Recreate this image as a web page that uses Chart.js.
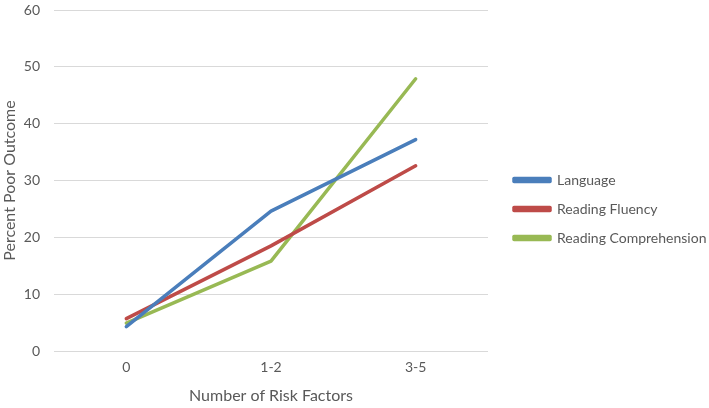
<!DOCTYPE html>
<html><head><meta charset="utf-8">
<script src="https://cdn.jsdelivr.net/npm/chart.js@4/dist/chart.umd.min.js"></script>
<style>html,body{margin:0;padding:0;background:#fff}</style>
</head><body><canvas id="c" width="709" height="408"></canvas>
<script>
const categories = ["0", "1-2", "3-5"];
const language = [4.3, 24.6, 37.2];
const readingFluency = [5.7, 18.5, 32.6];
const readingComprehension = [4.9, 15.8, 47.9];
const seriesNames = ["Language", "Reading Fluency", "Reading Comprehension"];
const yTicks = [0, 10, 20, 30, 40, 50, 60];

const FONT = "Lato, 'Open Sans', sans-serif";
const TXT = '#595959';
const colors = ["#4a7ebb", "#be4b48", "#98b954"];
const values = [language, readingFluency, readingComprehension];

new Chart(document.getElementById('c'), {
  type: 'line',
  data: {
    labels: categories,
    datasets: seriesNames.map((n, i) => ({
      label: n, data: values[i], borderColor: colors[i], backgroundColor: colors[i],
      borderWidth: 3.5, pointRadius: 0, tension: 0, borderCapStyle: 'round', borderJoinStyle: 'round'
    }))
  },
  options: {
    responsive: false, animation: false,
    devicePixelRatio: 1,
    layout: { padding: { top: 10, right: 0, bottom: 0, left: 0 } },
    plugins: {
      tooltip: { enabled: false },
      legend: {
        position: 'right',
        maxWidth: 210,
        labels: { boxWidth: 36, boxHeight: 3, padding: 15, color: TXT, font: { family: FONT, size: 14 } }
      }
    },
    scales: {
      x: {
        offset: true,
        afterFit: (s) => { s.height = 57; },
        grid: { display: false, drawTicks: false },
        border: { display: false },
        ticks: { color: TXT, font: { family: FONT, size: 14 }, padding: 8 },
        title: { display: true, text: 'Number of Risk Factors', color: TXT, font: { family: FONT, size: 16 }, padding: { top: 4, bottom: 3 } }
      },
      y: {
        min: 0, max: 60,
        afterBuildTicks: (ax) => { ax.ticks = yTicks.map(v => ({ value: v })); },
        afterFit: (s) => { s.paddingTop = 0; s.width = 54; },
        grid: { color: '#d9d9d9', lineWidth: 1, drawTicks: false },
        border: { display: false },
        ticks: { color: TXT, font: { family: FONT, size: 14 }, padding: 14 },
        title: { display: true, text: 'Percent Poor Outcome', color: TXT, font: { family: FONT, size: 16 }, padding: { top: 0, bottom: 2 } }
      },
      gap: {
        position: 'right', display: true,
        grid: { display: false, drawTicks: false }, border: { display: false },
        ticks: { display: false },
        afterFit: (s) => { s.width = 11; }
      }
    }
  }
});
</script>
</body></html>
